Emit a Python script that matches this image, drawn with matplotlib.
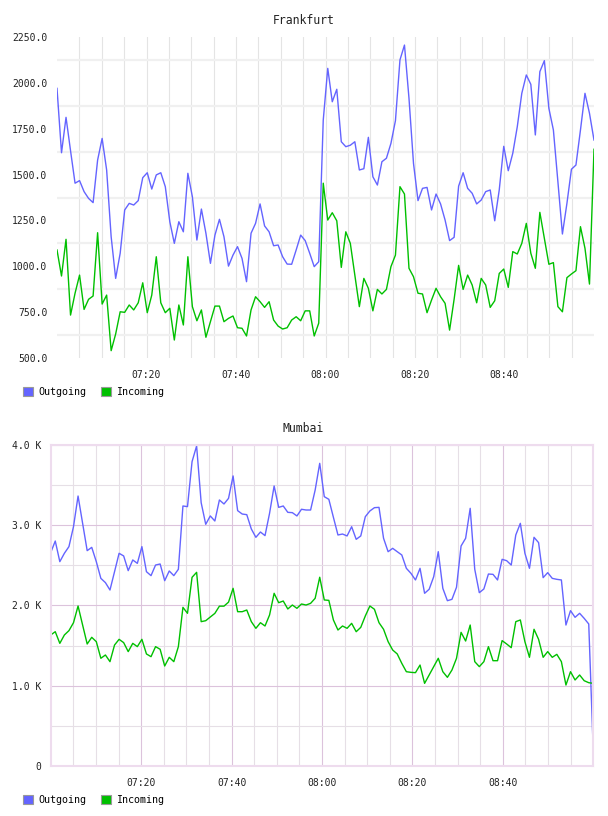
import numpy as np
import matplotlib
matplotlib.use("Agg")
import matplotlib.pyplot as plt
from matplotlib.patches import Patch

# one sample per minute, 07:00 -> 09:00
time_labels = ["07:20", "07:40", "08:00", "08:20", "08:40"]
series_names = ["Outgoing", "Incoming"]

frankfurt_out = [
    1970, 1619, 1812, 1630, 1453, 1467, 1407, 1370, 1347, 1579,
    1697, 1525, 1161, 934, 1071, 1307, 1343, 1334, 1358, 1483,
    1510, 1421, 1498, 1510, 1434, 1243, 1125, 1243, 1188, 1507,
    1379, 1143, 1312, 1180, 1016, 1170, 1256, 1161, 1001, 1061,
    1107, 1043, 916, 1180, 1234, 1340, 1220, 1188, 1112, 1116,
    1052, 1012, 1011, 1089, 1170, 1140, 1071, 998, 1025, 1797,
    2079, 1897, 1965, 1679, 1652, 1660, 1679, 1525, 1532, 1703,
    1488, 1443, 1570, 1589, 1670, 1794, 2125, 2206, 1916, 1561,
    1358, 1425, 1430, 1307, 1394, 1340, 1252, 1140, 1158, 1437,
    1510, 1425, 1398, 1340, 1361, 1407, 1416, 1248, 1416, 1654,
    1521, 1616, 1761, 1943, 2043, 1992, 1716, 2061, 2121, 1861,
    1743, 1461, 1176, 1343, 1529, 1552, 1743, 1943, 1834, 1688,
]
frankfurt_in = [
    1089, 947, 1147, 734, 853, 952, 765, 820, 838, 1183,
    794, 843, 540, 631, 752, 749, 789, 762, 801, 910,
    747, 843, 1052, 801, 747, 771, 598, 789, 680, 1052,
    780, 703, 762, 613, 698, 783, 783, 698, 716, 729,
    665, 662, 620, 762, 834, 807, 776, 807, 707, 674,
    658, 665, 707, 725, 703, 757, 757, 620, 690, 1453,
    1252, 1292, 1248, 994, 1188, 1125, 952, 780, 934, 880,
    757, 874, 849, 874, 998, 1061, 1434, 1394, 989, 943,
    853, 849, 747, 816, 880, 834, 798, 652, 820, 1005,
    874, 952, 898, 801, 934, 898, 776, 812, 961, 985,
    885, 1080, 1067, 1125, 1234, 1071, 989, 1294, 1152, 1011,
    1020, 780, 752, 938, 958, 976, 1216, 1098, 903, 1638,
]
mumbai_out = [
    2656, 2801, 2544, 2648, 2731, 2980, 3361, 3021, 2681, 2722,
    2544, 2336, 2283, 2191, 2419, 2648, 2615, 2432, 2565, 2523,
    2731, 2419, 2370, 2502, 2515, 2307, 2428, 2370, 2449, 3237,
    3229, 3789, 3984, 3278, 3009, 3113, 3050, 3312, 3262, 3332,
    3611, 3179, 3137, 3129, 2951, 2847, 2913, 2868, 3146, 3486,
    3220, 3237, 3158, 3154, 3113, 3196, 3187, 3187, 3436, 3768,
    3353, 3320, 3096, 2876, 2888, 2864, 2979, 2822, 2864, 3104,
    3175, 3216, 3220, 2835, 2668, 2710, 2668, 2627, 2461, 2399,
    2316, 2461, 2150, 2200, 2357, 2668, 2212, 2058, 2075, 2225,
    2739, 2835, 3208, 2449, 2158, 2204, 2390, 2386, 2316, 2573,
    2556, 2502, 2876, 3021, 2648, 2461, 2847, 2781, 2345, 2407,
    2336, 2324, 2316, 1755, 1934, 1851, 1901, 1838, 1768, 178,
]
mumbai_in = [
    1631, 1672, 1527, 1631, 1685, 1784, 1992, 1755, 1519, 1602,
    1548, 1341, 1382, 1299, 1506, 1577, 1536, 1424, 1527, 1486,
    1577, 1395, 1361, 1486, 1453, 1245, 1353, 1299, 1486, 1975,
    1901, 2349, 2411, 1797, 1809, 1855, 1900, 1990, 1990, 2040,
    2212, 1921, 1921, 1942, 1797, 1714, 1784, 1743, 1880, 2150,
    2033, 2054, 1955, 2004, 1963, 2017, 2004, 2025, 2088, 2350,
    2067, 2062, 1818, 1693, 1743, 1714, 1776, 1672, 1726, 1868,
    1992, 1951, 1784, 1702, 1548, 1444, 1395, 1278, 1174, 1166,
    1162, 1257, 1029, 1133, 1237, 1341, 1174, 1104, 1195, 1341,
    1664, 1556, 1755, 1299, 1237, 1299, 1486, 1311, 1311, 1561,
    1519, 1473, 1797, 1818, 1548, 1353, 1702, 1577, 1353, 1424,
    1353, 1390, 1299, 1008, 1174, 1071, 1133, 1062, 1037, 1029,
]

frankfurt_yticks = [500, 750, 1000, 1250, 1500, 1750, 2000, 2250]
frankfurt_ylabels = ["500.0", "750.0", "1000.0", "1250.0", "1500.0",
                     "1750.0", "2000.0", "2250.0"]
mumbai_yticks = [0, 1000, 2000, 3000, 4000]
mumbai_ylabels = ["0", "1.0 K", "2.0 K", "3.0 K", "4.0 K"]

BLUE = "#6464ff"
GREEN = "#00c000"
FONT = "DejaVu Sans Mono"
W, H = 608, 816


def base_axes(fig, left, top, right, bottom):
    ax = fig.add_axes([left / W, 1 - bottom / H, (right - left) / W, (bottom - top) / H])
    ax.set_axisbelow(True)
    ax.set_xlim(0, 120)
    ax.set_xticks([20, 40, 60, 80, 100])
    ax.set_xticklabels(time_labels)
    ax.set_xticks([m for m in range(5, 120, 5) if m % 20], minor=True)
    ax.tick_params(which="both", length=0)
    ax.tick_params(axis="x", pad=9)
    ax.tick_params(axis="y", pad=7)
    for lab in ax.get_xticklabels() + ax.get_yticklabels():
        lab.set_family(FONT)
        lab.set_fontsize(7)
        lab.set_color("#222222")
    return ax


def draw_lines(ax, out, inc):
    t = np.linspace(0, 120, len(out))
    ax.plot(t, out, color=BLUE, lw=1.0)
    ax.plot(t, inc, color=GREEN, lw=1.0)


def add_legend(fig, y):
    handles = [Patch(facecolor=BLUE, edgecolor="#999999", lw=0.8),
               Patch(facecolor=GREEN, edgecolor="#999999", lw=0.8)]
    fig.legend(handles, series_names, loc="center left",
               bbox_to_anchor=(23 / W, 1 - y / H), ncol=2, frameon=False,
               borderaxespad=0, borderpad=0, handlelength=1.0, handleheight=1.0,
               handletextpad=0.5, columnspacing=1.5,
               prop={"family": FONT, "size": 7.2})


def main():
    fig = plt.figure(figsize=(W / 100, H / 100), dpi=100)

    # Frankfurt
    ax1 = base_axes(fig, 57, 37, 594, 358)
    ax1.set_ylim(500, 2250)
    ax1.set_yticks(frankfurt_yticks)
    ax1.set_yticklabels(frankfurt_ylabels, family=FONT, fontsize=7, color="#222222")
    ax1.set_yticks([625 + 250 * k for k in range(7)], minor=True)
    for s in ax1.spines.values():
        s.set_visible(False)
    ax1.grid(axis="y", which="minor", color="#f0f0f0", lw=1.6)
    ax1.grid(axis="x", which="both", color="#e4e4e4", lw=0.8)
    draw_lines(ax1, frankfurt_out, frankfurt_in)
    fig.text(304 / W, 1 - 20 / H, "Frankfurt", ha="center", va="center",
             family=FONT, fontsize=8.3, color="#222222")
    add_legend(fig, 392)

    # Mumbai
    ax2 = base_axes(fig, 50.7, 444.7, 593.3, 766)
    ax2.set_ylim(0, 4000)
    ax2.set_yticks(mumbai_yticks)
    ax2.set_yticklabels(mumbai_ylabels, family=FONT, fontsize=7, color="#222222")
    ax2.set_yticks([500, 1500, 2500, 3500], minor=True)
    for s in ax2.spines.values():
        s.set_color("#eedcee")
        s.set_linewidth(1.5)
    ax2.grid(which="minor", color="#e6dfe6", lw=0.8)
    ax2.grid(which="major", color="#dcc3dc", lw=0.8)
    draw_lines(ax2, mumbai_out, mumbai_in)
    fig.text(303 / W, 1 - 429 / H, "Mumbai", ha="center", va="center",
             family=FONT, fontsize=8.3, color="#222222")
    add_legend(fig, 800)

    fig.savefig("out.png", dpi=100)


if __name__ == "__main__":
    main()
